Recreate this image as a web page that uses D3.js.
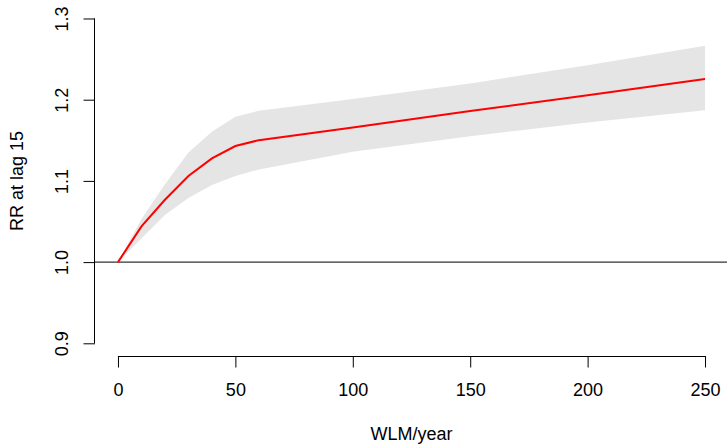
<!DOCTYPE html>
<html>
<head>
<meta charset="utf-8">
<script src="https://cdn.jsdelivr.net/npm/d3@7"></script>
<style>
  body { margin: 0; background: #fff; }
  text { font-family: "Liberation Sans", Arial, sans-serif; }
</style>
</head>
<body>
<script>
// exposure values (WLM/year) and estimated RR with confidence band
var wlm   = [0, 10, 20, 30, 40, 50, 60, 100, 150, 200, 250];
var rr    = [1.000, 1.0440, 1.0768, 1.106, 1.1277, 1.1429, 1.1502, 1.1659, 1.186, 1.2056, 1.2254];
var upper = [1.000, 1.0530, 1.0960, 1.135, 1.1605, 1.179, 1.1864, 1.2010, 1.220, 1.2425, 1.2664];
var lower = [1.000, 1.0290, 1.0580, 1.079, 1.0950, 1.106, 1.1140, 1.1360, 1.155, 1.1720, 1.1870];
var xTicks = [0, 50, 100, 150, 200, 250];
var yTicks = [0.9, 1.0, 1.1, 1.2, 1.3];

var width = 727, height = 447;
var svg = d3.select("body").append("svg")
    .attr("width", width)
    .attr("height", height);

// R style plot region: range extended by 4%
var x = d3.scaleLinear().domain([-10, 260]).range([94.5, 728.5]);
var y = d3.scaleLinear().domain([0.884, 1.316]).range([356.3, 5.5]);

var pts = wlm.map(function(d, i) { return {x: d, rr: rr[i], lo: lower[i], hi: upper[i]}; });

// confidence band
var area = d3.area()
    .x(function(d) { return x(d.x); })
    .y0(function(d) { return y(d.lo); })
    .y1(function(d) { return y(d.hi); });
svg.append("path")
    .datum(pts)
    .attr("d", area)
    .attr("fill", "#e5e5e5");

// reference line at 1
svg.append("line")
    .attr("x1", x(-10)).attr("x2", width)
    .attr("y1", y(1)).attr("y2", y(1))
    .attr("stroke", "#000").attr("stroke-width", 1);

// RR curve
var line = d3.line()
    .x(function(d) { return x(d.x); })
    .y(function(d) { return y(d.rr); });
svg.append("path")
    .datum(pts)
    .attr("d", line)
    .attr("fill", "none")
    .attr("stroke", "#ff0000")
    .attr("stroke-width", 2);

// x axis
var xAxis = svg.append("g")
    .attr("transform", "translate(0," + 356 + ")")
    .call(d3.axisBottom(x).tickValues(xTicks).tickSize(11.5).tickPadding(16).tickFormat(d3.format("d")));
xAxis.select(".domain")
    .attr("d", "M" + x(0) + ",0.5H" + x(250));
xAxis.selectAll(".tick line").attr("stroke", "#000");
xAxis.selectAll("text").attr("font-size", 18).attr("fill", "#000")
    .attr("font-family", "Liberation Sans, Arial, sans-serif");

// y axis
var yAxis = svg.append("g")
    .attr("transform", "translate(95,0)")
    .call(d3.axisLeft(y).tickValues(yTicks).tickSize(11.5).tickFormat(d3.format(".1f")));
yAxis.select(".domain")
    .attr("d", "M-0.5," + y(0.9) + "V" + y(1.3));
yAxis.selectAll(".tick line").attr("stroke", "#000");
yAxis.selectAll("text")
    .attr("font-size", 18).attr("fill", "#000")
    .attr("font-family", "Liberation Sans, Arial, sans-serif")
    .attr("x", null).attr("dy", null)
    .attr("text-anchor", "middle")
    .attr("transform", "translate(-27,0) rotate(-90)");

// axis titles
svg.append("text")
    .attr("x", x(125)).attr("y", 440)
    .attr("text-anchor", "middle")
    .attr("font-size", 18)
    .text("WLM/year");

svg.append("text")
    .attr("transform", "translate(23," + y(1.1) + ") rotate(-90)")
    .attr("text-anchor", "middle")
    .attr("font-size", 18)
    .text("RR at lag 15");
</script>
</body>
</html>
